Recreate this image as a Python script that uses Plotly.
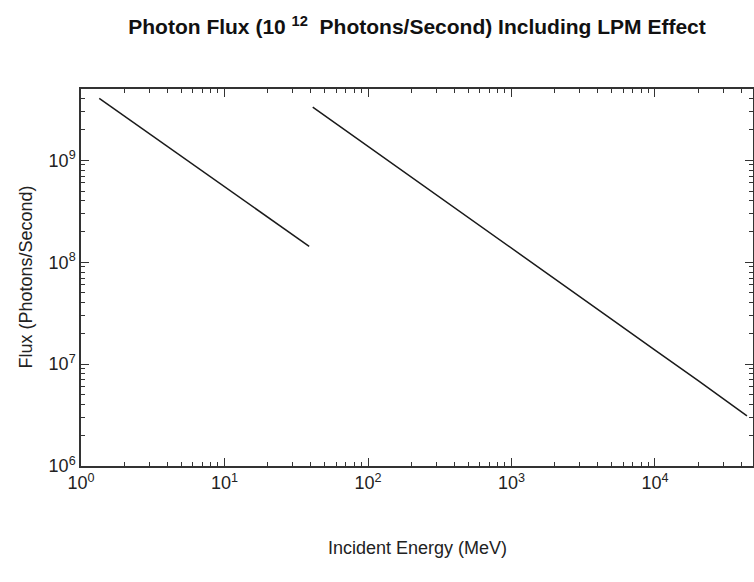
import plotly.graph_objects as go

# Segment 1 (below the LPM threshold)
energy_low = [1.34, 2, 3, 5, 7, 10, 15, 20, 30, 38.9]
flux_low = [4.05e9, 2.72e9, 1.82e9, 1.09e9, 7.8e8, 5.5e8, 3.7e8, 2.8e8, 1.86e8, 1.43e8]

# Segment 2 (above the threshold)
energy_high = [41.2, 60, 100, 200, 500, 1000, 2000, 5000, 10000, 20000, 43750]
flux_high = [3.33e9, 2.29e9, 1.37e9, 6.9e8, 2.75e8, 1.37e8, 6.9e7, 2.75e7, 1.37e7, 6.9e6, 3.11e6]

x_tickvals = [1, 10, 100, 1000, 10000]
x_ticktext = ["10<sup>0</sup>", "10<sup>1</sup>", "10<sup>2</sup>", "10<sup>3</sup>", "10<sup>4</sup>"]
y_tickvals = [1e6, 1e7, 1e8, 1e9]
y_ticktext = ["10<sup>6</sup>", "10<sup>7</sup>", "10<sup>8</sup>", "10<sup>9</sup>"]

FONT = "Liberation Sans, Arial, Helvetica, sans-serif"
LINE = "#1a1a1a"
AX = "#333333"

fig = go.Figure()
fig.add_trace(go.Scatter(x=energy_low, y=flux_low, mode="lines",
                         line=dict(color=LINE, width=1.5), showlegend=False))
fig.add_trace(go.Scatter(x=energy_high, y=flux_high, mode="lines",
                         line=dict(color=LINE, width=1.5), showlegend=False))

W, H = 754, 582
ml, mr, mt, mb = 81, 1, 89, 116
pw, ph = W - ml - mr, H - mt - mb

axis_common = dict(
    type="log", showgrid=False, zeroline=False,
    showline=True, linecolor=AX, linewidth=1.5, mirror="ticks",
    ticks="inside", ticklen=8, tickwidth=1, tickcolor=AX,
    tickfont=dict(family=FONT, size=18, color="#222222"),
    minor=dict(ticks="inside", ticklen=4, tickwidth=1, tickcolor=AX, dtick="D1"),
)

fig.update_layout(
    width=W, height=H,
    margin=dict(l=ml, r=mr, t=mt, b=mb, autoexpand=False),
    plot_bgcolor="white", paper_bgcolor="white",
    font=dict(family=FONT, color="#222222"),
    xaxis=dict(range=[0, 4.683], tickvals=x_tickvals, ticktext=x_ticktext, **axis_common),
    yaxis=dict(range=[6, 9.70], tickvals=y_tickvals, ticktext=y_ticktext, **axis_common),
    title=dict(text="<b>Photon Flux (10 <sup>12</sup>  Photons/Second) Including LPM Effect</b>",
               x=(ml + pw / 2) / W, xanchor="center",
               y=1 - 27 / H, yanchor="middle", yref="container",
               font=dict(family=FONT, size=21, color="#111111")),
    annotations=[
        dict(text="Incident Energy (MeV)", xref="paper", yref="paper",
             x=0.5, y=-(548 - (mt + ph)) / ph, xanchor="center", yanchor="middle",
             showarrow=False, font=dict(family=FONT, size=18, color="#222222")),
        dict(text="Flux (Photons/Second)", xref="paper", yref="paper",
             x=-(ml - 25) / pw, y=0.5, xanchor="center", yanchor="middle", textangle=-90,
             showarrow=False, font=dict(family=FONT, size=18, color="#222222")),
    ],
)

fig.write_html("out.html")
